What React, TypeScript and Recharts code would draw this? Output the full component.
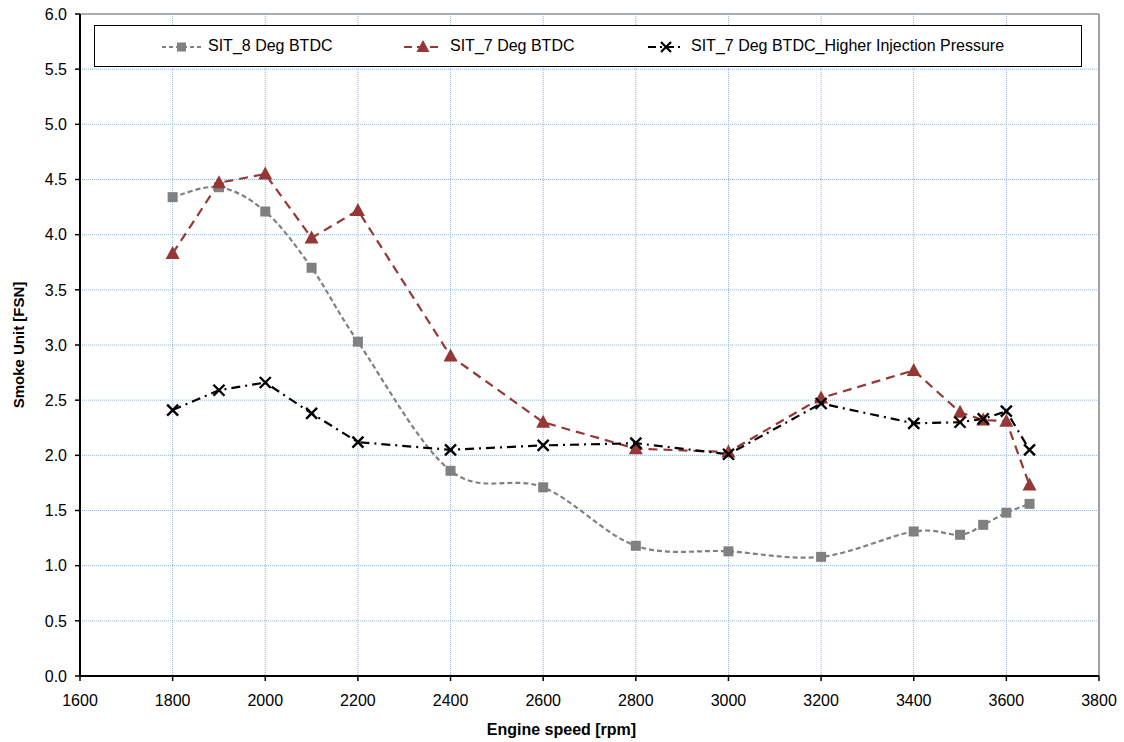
import React from "react";
import {
  LineChart,
  Line,
  XAxis,
  YAxis,
  CartesianGrid,
  Legend,
  ReferenceLine,
  Label,
} from "recharts";

const rpm = [1800, 1900, 2000, 2100, 2200, 2400, 2600, 2800, 3000, 3200, 3400, 3500, 3550, 3600, 3650];
const sit8 = [4.34, 4.43, 4.21, 3.7, 3.03, 1.86, 1.71, 1.18, 1.13, 1.08, 1.31, 1.28, 1.37, 1.48, 1.56];
const sit7 = [3.83, 4.47, 4.55, 3.97, 4.22, 2.9, 2.3, 2.06, 2.03, 2.52, 2.77, 2.39, 2.32, 2.31, 1.73];
const sit7hip = [2.41, 2.59, 2.66, 2.38, 2.12, 2.05, 2.09, 2.11, 2.01, 2.47, 2.29, 2.3, 2.33, 2.4, 2.05];

const xTicks = [1600, 1800, 2000, 2200, 2400, 2600, 2800, 3000, 3200, 3400, 3600, 3800];
const yTicks = [0, 0.5, 1, 1.5, 2, 2.5, 3, 3.5, 4, 4.5, 5, 5.5, 6];

const seriesNames = [
  "SIT_8 Deg BTDC",
  "SIT_7 Deg BTDC",
  "SIT_7 Deg BTDC_Higher Injection Pressure",
];

const data = rpm.map((r, i) => ({ rpm: r, a: sit8[i], b: sit7[i], c: sit7hip[i] }));

const FONT = "'Liberation Sans', Arial, sans-serif";
const GRAY = "#808080";
const RED = "#953735";

// Catmull-Rom style smoothing (like Excel's smoothed line)
const smoothCurve: any = (context: any) => {
  let pts: number[][] = [];
  return {
    areaStart() {},
    areaEnd() {},
    lineStart() {
      pts = [];
    },
    point(x: number, y: number) {
      pts.push([+x, +y]);
    },
    lineEnd() {
      if (!pts.length) return;
      context.moveTo(pts[0][0], pts[0][1]);
      const t = 1 / 6;
      for (let i = 0; i < pts.length - 1; i++) {
        const p0 = pts[i - 1] || pts[i];
        const p1 = pts[i];
        const p2 = pts[i + 1];
        const p3 = pts[i + 2] || p2;
        context.bezierCurveTo(
          p1[0] + (p2[0] - p0[0]) * t,
          p1[1] + (p2[1] - p0[1]) * t,
          p2[0] - (p3[0] - p1[0]) * t,
          p2[1] - (p3[1] - p1[1]) * t,
          p2[0],
          p2[1]
        );
      }
    },
  };
};

const SquareDot = (props: any) => {
  const { cx, cy, index } = props;
  if (cx == null || cy == null) return null;
  return <rect key={`s${index}`} x={cx - 5} y={cy - 5} width={10} height={10} fill={GRAY} />;
};

const TriDot = (props: any) => {
  const { cx, cy, index } = props;
  if (cx == null || cy == null) return null;
  return (
    <polygon
      key={`t${index}`}
      points={`${cx},${cy - 7.5} ${cx - 7},${cy + 5.5} ${cx + 7},${cy + 5.5}`}
      fill={RED}
    />
  );
};

const XDot = (props: any) => {
  const { cx, cy, index } = props;
  if (cx == null || cy == null) return null;
  const s = 5.5;
  return (
    <g key={`x${index}`}>
      <line x1={cx - s} y1={cy - s} x2={cx + s} y2={cy + s} stroke="#000" strokeWidth={2.4} />
      <line x1={cx - s} y1={cy + s} x2={cx + s} y2={cy - s} stroke="#000" strokeWidth={2.4} />
    </g>
  );
};

const LegendContent = () => {
  const textStyle: React.CSSProperties = {
    position: "absolute",
    top: 10,
    fontFamily: FONT,
    fontSize: 16,
    color: "#000",
    whiteSpace: "nowrap",
    lineHeight: "20px",
  };
  return (
    <div style={{ position: "relative", width: "100%", height: "100%" }}>
      <svg style={{ position: "absolute", left: 0, top: 0 }} width={988} height={42}>
        <line x1={67} y1={21} x2={106} y2={21} stroke={GRAY} strokeWidth={2} strokeDasharray="4 3" />
        <rect x={82} y={16.5} width={9} height={9} fill={GRAY} />
        <line x1={309} y1={21} x2={348} y2={21} stroke={RED} strokeWidth={2} strokeDasharray="8 5" />
        <polygon points={`328,14 321.5,26 334.5,26`} fill={RED} />
        <line x1={553} y1={21} x2={589} y2={21} stroke="#000" strokeWidth={2} strokeDasharray="8 4 2 4" />
        <line x1={566} y1={16} x2={576} y2={26} stroke="#000" strokeWidth={2.2} />
        <line x1={566} y1={26} x2={576} y2={16} stroke="#000" strokeWidth={2.2} />
      </svg>
      <span style={{ ...textStyle, left: 113 }}>{seriesNames[0]}</span>
      <span style={{ ...textStyle, left: 355 }}>{seriesNames[1]}</span>
      <span style={{ ...textStyle, left: 596 }}>{seriesNames[2]}</span>
    </div>
  );
};

export default function App() {
  return (
    <div style={{ position: "absolute", left: 0, top: 0, width: 1124, height: 742, background: "#fff" }}>
      <LineChart
        width={1124}
        height={742}
        data={data}
        margin={{ top: 14, right: 25, left: 0, bottom: -42 }}
      >
        <CartesianGrid stroke="#8fb5e6" strokeDasharray="1 1" strokeWidth={1} />
        <XAxis
          dataKey="rpm"
          type="number"
          domain={[1600, 3800]}
          ticks={xTicks}
          interval={0}
          height={66}
          tickSize={5}
          tickMargin={14}
          axisLine={{ stroke: "#000", strokeWidth: 2 }}
          tickLine={{ stroke: "#000", strokeWidth: 1.5 }}
          tick={{ fill: "#000", fontSize: 16, fontFamily: FONT }}
        >
          <Label
            value="Engine speed [rpm]"
            position="insideBottom"
            offset={7}
            dx={-28}
            style={{ fontFamily: FONT, fontSize: 16, fontWeight: "bold", fill: "#000" }}
          />
        </XAxis>
        <YAxis
          type="number"
          domain={[0, 6]}
          ticks={yTicks}
          interval={0}
          width={80}
          tickSize={5}
          tickMargin={8}
          tickFormatter={(v: number) => v.toFixed(1)}
          axisLine={{ stroke: "#000", strokeWidth: 2 }}
          tickLine={{ stroke: "#000", strokeWidth: 1.5 }}
          tick={{ fill: "#000", fontSize: 16, fontFamily: FONT }}
        >
          <Label
            value="Smoke Unit [FSN]"
            angle={-90}
            position="insideLeft"
            offset={19}
            style={{ textAnchor: "middle", fontFamily: FONT, fontSize: 15, fontWeight: "bold", fill: "#000" }}
          />
        </YAxis>
        <ReferenceLine y={6} stroke="#999" strokeWidth={1.5} />
        <ReferenceLine x={3800} stroke="#888" strokeWidth={1.5} />
        <Legend
          content={<LegendContent />}
          wrapperStyle={{
            position: "absolute",
            left: 94,
            top: 25,
            width: 988,
            height: 42,
            border: "1.5px solid #000",
            background: "#fff",
            boxSizing: "border-box",
          }}
        />
        <Line
          dataKey="a"
          name={seriesNames[0]}
          type={smoothCurve}
          stroke={GRAY}
          strokeWidth={2.2}
          strokeDasharray="5 3"
          dot={<SquareDot />}
          activeDot={false}
          isAnimationActive={false}
        />
        <Line
          dataKey="b"
          name={seriesNames[1]}
          type="linear"
          stroke={RED}
          strokeWidth={2.2}
          strokeDasharray="9 6"
          dot={<TriDot />}
          activeDot={false}
          isAnimationActive={false}
        />
        <Line
          dataKey="c"
          name={seriesNames[2]}
          type="linear"
          stroke="#000"
          strokeWidth={2.2}
          strokeDasharray="9 5 2 5"
          dot={<XDot />}
          activeDot={false}
          isAnimationActive={false}
        />
      </LineChart>
    </div>
  );
}
